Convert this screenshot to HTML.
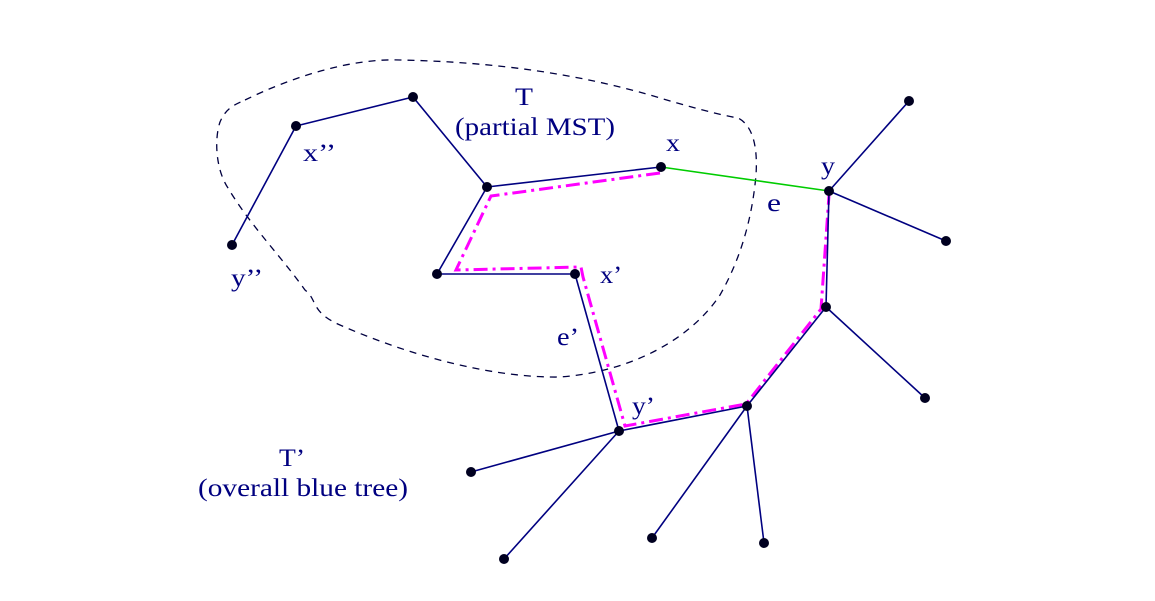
<!DOCTYPE html>
<html><head><style>
html,body{margin:0;padding:0;background:#fff;}
svg{display:block;}
text{font-family:"Liberation Serif",serif;fill:#000080;font-size:25px;}
</style></head><body>
<svg width="1155" height="601" viewBox="0 0 1155 601">
<path d="M245,100 C290,78 350,58 400,60 C500,62 580,75 650,95 C690,107 720,115 738,118 C752,125 758,145 756,175 C752,220 740,260 720,295 C690,340 630,372 560,377 C500,378 420,360 340,325 C310,312 318,300 305,290 C280,255 250,225 228,188 C216,170 214,140 220,122 C226,108 234,105 245,100 Z" fill="none" stroke="#000040" stroke-width="1.3" stroke-dasharray="7,6"/>
<polyline points="660,173 491,196 456,270 581,267 583,277 625,426 746,404 821,309 829,195" fill="none" stroke="#ff00ff" stroke-width="3" stroke-dasharray="14,5,3,5"/>
<g stroke="#000080" stroke-width="1.6" fill="none">
<line x1="232" y1="245" x2="296" y2="126"/>
<line x1="296" y1="126" x2="413" y2="97"/>
<line x1="413" y1="97" x2="487" y2="187"/>
<line x1="487" y1="187" x2="661" y2="167"/>
<line x1="487" y1="187" x2="437" y2="274"/>
<line x1="437" y1="274" x2="575" y2="274"/>
<line x1="575" y1="274" x2="619" y2="431"/>
<line x1="619" y1="431" x2="747" y2="406"/>
<line x1="747" y1="406" x2="826" y2="307"/>
<line x1="826" y1="307" x2="829" y2="191"/>
<line x1="829" y1="191" x2="909" y2="101"/>
<line x1="829" y1="191" x2="946" y2="241"/>
<line x1="826" y1="307" x2="925" y2="398"/>
<line x1="619" y1="431" x2="471" y2="472"/>
<line x1="619" y1="431" x2="504" y2="559"/>
<line x1="747" y1="406" x2="652" y2="538"/>
<line x1="747" y1="406" x2="764" y2="543"/>
</g>
<line x1="661" y1="167" x2="829" y2="191" stroke="#00cc00" stroke-width="1.6"/>
<g fill="#000020">
<circle cx="232" cy="245" r="5"/><circle cx="296" cy="126" r="5"/><circle cx="413" cy="97" r="5"/>
<circle cx="487" cy="187" r="5"/><circle cx="661" cy="167" r="5"/><circle cx="437" cy="274" r="5"/>
<circle cx="575" cy="274" r="5"/><circle cx="619" cy="431" r="5"/><circle cx="747" cy="406" r="5"/>
<circle cx="826" cy="307" r="5"/><circle cx="829" cy="191" r="5"/><circle cx="909" cy="101" r="5"/>
<circle cx="946" cy="241" r="5"/><circle cx="925" cy="398" r="5"/><circle cx="471" cy="472" r="5"/>
<circle cx="504" cy="559" r="5"/><circle cx="652" cy="538" r="5"/><circle cx="764" cy="543" r="5"/>
</g>
<text x="515" y="105" textLength="18" lengthAdjust="spacingAndGlyphs">T</text>
<text x="455" y="135" textLength="160" lengthAdjust="spacingAndGlyphs">(partial MST)</text>
<text x="666" y="151" textLength="14" lengthAdjust="spacingAndGlyphs">x</text>
<text x="303" y="161" textLength="33" lengthAdjust="spacingAndGlyphs">x’’</text>
<text x="231" y="286" textLength="32" lengthAdjust="spacingAndGlyphs">y’’</text>
<text x="600" y="283" textLength="22" lengthAdjust="spacingAndGlyphs">x’</text>
<text x="557" y="345" textLength="22" lengthAdjust="spacingAndGlyphs">e’</text>
<text x="632" y="414" textLength="23" lengthAdjust="spacingAndGlyphs">y’</text>
<text x="821" y="174" textLength="14" lengthAdjust="spacingAndGlyphs">y</text>
<text x="767" y="211" textLength="14" lengthAdjust="spacingAndGlyphs">e</text>
<text x="279" y="466" textLength="26" lengthAdjust="spacingAndGlyphs">T’</text>
<text x="198" y="496" textLength="210" lengthAdjust="spacingAndGlyphs">(overall blue tree)</text>
</svg>
</body></html>
